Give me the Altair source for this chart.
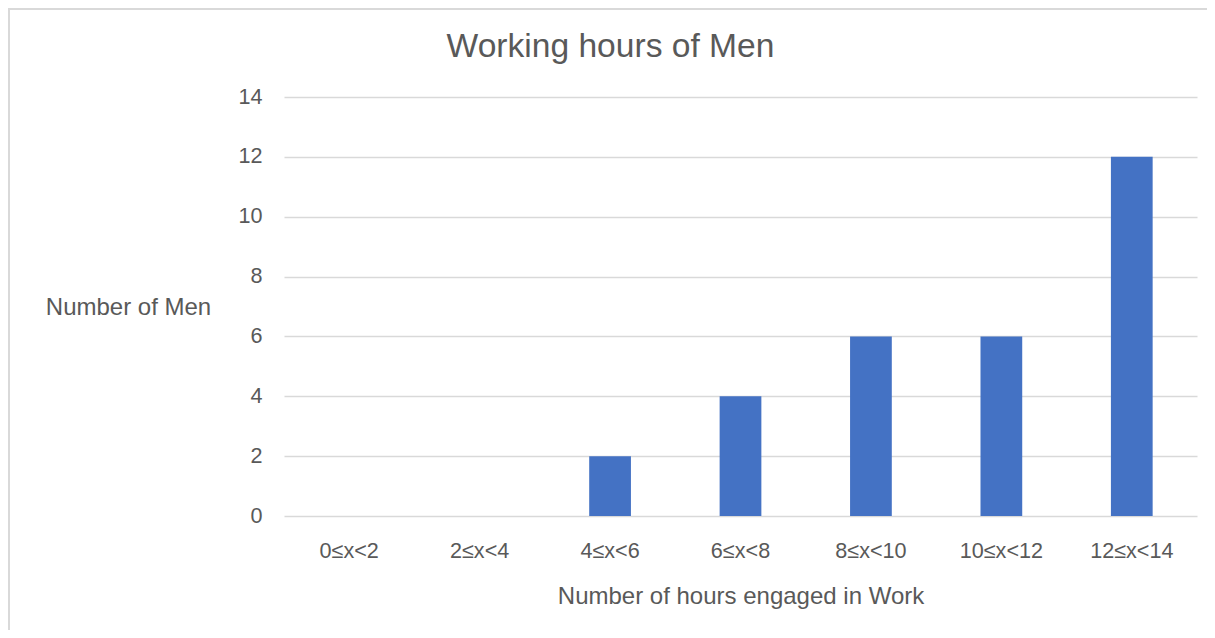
import altair as alt
import pandas as pd

categories = ["0≤x<2", "2≤x<4", "4≤x<6", "6≤x<8", "8≤x<10", "10≤x<12", "12≤x<14"]
counts = [0, 0, 2, 4, 6, 6, 12]

df = pd.DataFrame({"hours": categories, "men": counts})

FONT = "Liberation Sans"
TXT = "#595959"
GRID = "#d9d9d9"

bars = alt.Chart(df).mark_bar(color="#4472C4").encode(
    x=alt.X(
        "hours:N",
        sort=categories,
        scale=alt.Scale(paddingInner=0.68, paddingOuter=0.34),
        axis=alt.Axis(
            title="Number of hours engaged in Work",
            labelAngle=0,
            labelFontSize=21.6,
            labelColor=TXT,
            labelFont=FONT,
            labelPadding=24,
            ticks=False,
            domain=False,
            titleFontSize=24,
            titleFont=FONT,
            titleColor=TXT,
            titleFontWeight="normal",
            titlePadding=23,
        ),
    ),
    y=alt.Y(
        "men:Q",
        scale=alt.Scale(domain=[0, 14]),
        axis=alt.Axis(
            title="Number of Men",
            values=[0, 2, 4, 6, 8, 10, 12, 14],
            labelFontSize=21.6,
            labelColor=TXT,
            labelFont=FONT,
            labelPadding=22,
            ticks=False,
            domain=False,
            gridColor=GRID,
            gridWidth=1.5,
            titleFontSize=24,
            titleFont=FONT,
            titleColor=TXT,
            titleFontWeight="normal",
            titleAngle=0,
            titleAlign="center",
            titleBaseline="middle",
            titleX=-156,
            titleY=210,
        ),
    ),
)

border_top = alt.Chart(df).mark_rule(color=GRID, strokeWidth=2).encode(
    x=alt.value(-275), x2=alt.value(925), y=alt.value(-88)
)
border_left = alt.Chart(df).mark_rule(color=GRID, strokeWidth=2).encode(
    x=alt.value(-275), y=alt.value(-89), y2=alt.value(535)
)

chart = (
    alt.layer(bars, border_top, border_left)
    .properties(
        width=913,
        height=419,
        autosize=alt.AutoSizeParams(type="none"),
        padding={"left": 276, "top": 89, "right": 10, "bottom": 114},
        title=alt.TitleParams(
            "Working hours of Men",
            fontSize=33.6,
            font=FONT,
            color=TXT,
            fontWeight="normal",
            anchor="middle",
            dx=-130,
            baseline="alphabetic",
            offset=-84,
        ),
    )
    .configure_view(stroke=None)
)

chart.save("out.html", embed_options={"renderer": "svg", "actions": False})
